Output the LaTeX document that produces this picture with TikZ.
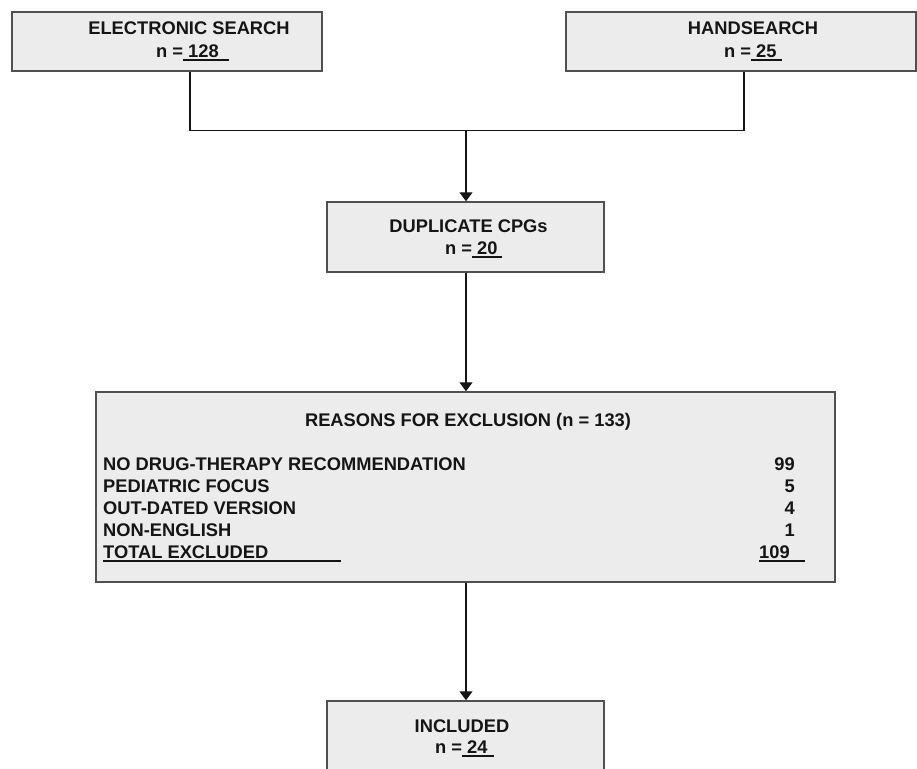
\documentclass[tikz,border=0pt]{standalone}
\usepackage{fontspec}
\setmainfont{Liberation Sans}[BoldFont={Liberation Sans Bold}]
\usetikzlibrary{arrows.meta}
\definecolor{boxfill}{HTML}{EBECEB}
\definecolor{boxline}{HTML}{505050}
\definecolor{ink}{HTML}{151515}
\newcommand\ulin[2]{\makebox[#1][l]{\rlap{\rule[-3.5pt]{#1}{1.5pt}}#2}}
\begin{document}
\begin{tikzpicture}[x=1pt,y=-1pt,
  box/.style={draw=boxline, line width=1.5pt, fill=boxfill, inner sep=0pt},
  txt/.style={anchor=base, inner sep=0pt, font=\fontsize{18.3}{22}\selectfont\bfseries, text=ink},
  txtl/.style={txt, anchor=base west},
  txtr/.style={txt, anchor=base east},
  link/.style={draw=ink, line width=1.3pt},
  arr/.style={link, -{Triangle[width=13pt,length=9pt]}}]
\useasboundingbox (0,0) rectangle (917,768);
% boxes
\node[box, minimum width=310pt, minimum height=59pt] (b1) at (167,41.5) {};
\node[box, minimum width=350pt, minimum height=59pt] (b2) at (741,41.5) {};
\node[box, minimum width=277pt, minimum height=70pt] (b3) at (465.5,237) {};
\node[box, minimum width=739pt, minimum height=190pt] (b4) at (465.5,487) {};
\node[box, minimum width=277pt, minimum height=79pt] (b5) at (465.5,740.5) {};
% texts
\node[txt] (t1) at (189,35) {ELECTRONIC SEARCH};
\node[txtl] (n1) at (156,57) {n =\ulin{46pt}{\ 128}};
\node[txt] (t2) at (753,35) {HANDSEARCH};
\node[txtl] (n2) at (724,57) {n =\ulin{31pt}{\ 25}};
\node[txt] (t3) at (468.5,232) {DUPLICATE CPGs};
\node[txtl] (n3) at (445,254) {n =\ulin{30pt}{\ 20}};
\node[txt] (h4) at (468,426) {REASONS FOR EXCLUSION (n = 133)};
\node[txtl] (r1) at (103,470) {NO DRUG-THERAPY RECOMMENDATION};
\node[txtl] (r2) at (103,492) {PEDIATRIC FOCUS};
\node[txtl] (r3) at (103,514) {OUT-DATED VERSION};
\node[txtl] (r4) at (103,536) {NON-ENGLISH};
\node[txtl] (r5) at (103,558) {\ulin{238pt}{TOTAL EXCLUDED}};
\node[txtr] (v1) at (795,470) {99};
\node[txtr] (v2) at (795,492) {5};
\node[txtr] (v3) at (795,514) {4};
\node[txtr] (v4) at (795,536) {1};
\node[txtl] (v5) at (759,558) {\ulin{46pt}{109}};
\node[txt] (t5) at (462,732) {INCLUDED};
\node[txtl] (n5) at (435,753) {n =\ulin{32pt}{\ 24}};
% connectors
\coordinate (j1) at (190,130.5);
\coordinate (j2) at (744,130.5);
\coordinate (j) at (466,130.5);
\draw[link] (b1.south -| j1) -- (j1) -- (j2) -- (b2.south -| j2);
\draw[arr] (j) -- (b3.north -| j);
\draw[arr] (b3.south -| j) -- (b4.north -| j);
\draw[arr] (b4.south -| j) -- (b5.north -| j);
\end{tikzpicture}
\end{document}
